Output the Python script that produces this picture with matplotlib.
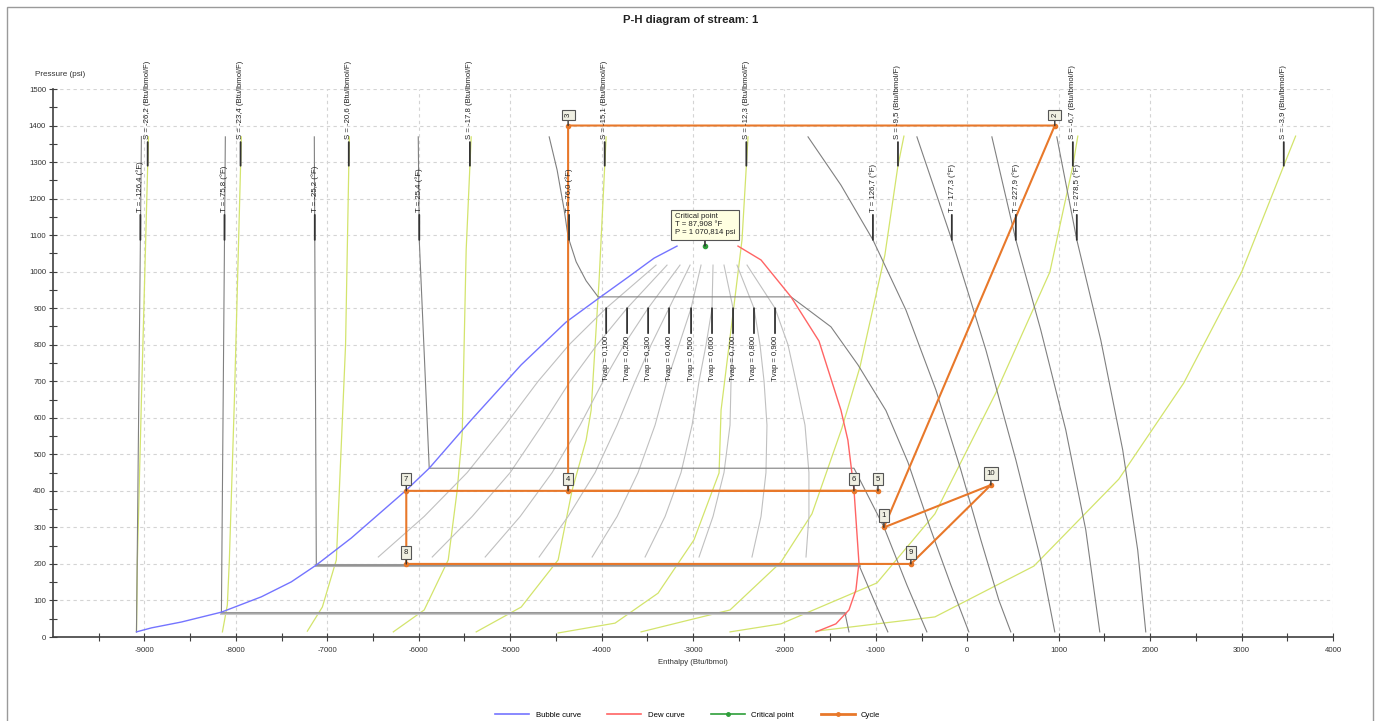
import numpy as np
import matplotlib.pyplot as plt
from matplotlib.lines import Line2D
from matplotlib.patches import Rectangle

plt.rcParams['font.family'] = ['Liberation Sans', 'DejaVu Sans']
plt.rcParams['font.size'] = 5.6
plt.rcParams['axes.unicode_minus'] = False

# saturation dome, enthalpy (Btu/lbmol) vs pressure (psi)
bubble_h = [-9087, -8923, -8596, -8158, -7721, -7393, -7120, -6737, -6136, -5885,
            -5426, -4879, -4388, -4027, -3710, -3426, -3175]
bubble_p = [14, 25, 41, 68, 110, 151, 197, 271, 402, 462, 594, 745, 862, 928, 985, 1037, 1070]
dew_h = [-2508, -2256, -1928, -1622, -1382, -1306, -1239, -1185, -1218, -1294, -1437, -1655]
dew_p = [1070, 1032, 931, 810, 621, 539, 402, 203, 129, 74, 36, 14]
crit_h, crit_p = -2869, 1070.814

# isotherms
iso_labels = ['-126,4', '-75,8', '-25,2', '25,4', '76,0', '126,7', '177,3', '227,9', '278,5']
iso_h = [
    [-9033, -9087],
    [-8115, -8158, -1338, -1294],
    [-7142, -7120, -1185, -1021, -869],
    [-6005, -5994, -5885, -1239, -912, -660, -442],
    [-4573, -4486, -4409, -4366, -4278, -4169, -4038, -1928, -1491, -1196, -890, -650, -398, -179, 17],
    [-1742, -1382, -1032, -671, -343, -70, 148, 345, 476],
    [-551, -169, 203, 531, 804, 957],
    [269, 531, 804, 1077, 1296, 1449],
    [979, 1198, 1460, 1700, 1864, 1952],
]
iso_p = [
    [1370, 14],
    [1369, 66, 66, 14],
    [1369, 197, 197, 101, 14],
    [1369, 1087, 462, 462, 301, 142, 14],
    [1369, 1278, 1169, 1095, 1027, 975, 931, 931, 849, 745, 620, 479, 293, 142, 14],
    [1369, 1237, 1087, 895, 676, 457, 266, 101, 14],
    [1369, 1087, 786, 485, 211, 14],
    [1369, 1087, 840, 567, 293, 14],
    [1369, 1087, 813, 512, 238, 14],
]

# isentropes
ise_labels = ['-26,2', '-23,4', '-20,6', '-17,8', '-15,1', '-12,3', '-9,5', '-6,7', '-3,9']
ise_h = [
    [-8956, -9033, -9077, -9087],
    [-7940, -8016, -8071, -8093, -8147],
    [-6759, -6800, -6860, -6901, -7054, -7218],
    [-5426, -5481, -5524, -5579, -5677, -5940, -6278],
    [-3950, -4027, -4114, -4169, -4322, -4475, -4879, -5371],
    [-2398, -2464, -2540, -2693, -2715, -2989, -3382, -3852, -4475],
    [-693, -759, -901, -1174, -1371, -1699, -2038, -2595, -3131, -3568],
    [1209, 1154, 903, 312, -354, -988, -2038, -2595],
    [3591, 3460, 3001, 2367, 1657, 728, -354, -1655],
]
ise_p = [
    [1369, 649, 211, 14],
    [1369, 649, 211, 88, 14],
    [1369, 800, 449, 211, 82, 16],
    [1369, 1059, 558, 402, 211, 74, 14],
    [1369, 977, 621, 539, 402, 211, 82, 14],
    [1369, 1087, 931, 621, 449, 266, 120, 38, 11],
    [1371, 1289, 1046, 739, 572, 337, 205, 74, 41, 14],
    [1371, 1289, 999, 668, 337, 148, 36, 14],
    [1371, 1289, 999, 695, 432, 194, 55, 16],
]

# constant vapour fraction lines
vap_labels = ['0,100', '0,200', '0,300', '0,400', '0,500', '0,600', '0,700', '0,800', '0,900']
vap_p = [1018, 900, 800, 700, 580, 450, 330, 219]
vap_h = [
    [-3404, -3950, -4355, -4694, -5054, -5470, -5940, -6442],
    [-3284, -3721, -4049, -4344, -4650, -5000, -5415, -5852],
    [-3142, -3491, -3754, -3983, -4235, -4541, -4890, -5273],
    [-3032, -3262, -3458, -3633, -3830, -4071, -4366, -4683],
    [-2912, -3021, -3152, -3284, -3415, -3601, -3830, -4103],
    [-2781, -2792, -2857, -2934, -3010, -3131, -3305, -3524],
    [-2661, -2562, -2562, -2584, -2595, -2661, -2781, -2934],
    [-2519, -2333, -2267, -2223, -2191, -2202, -2256, -2355],
    [-2409, -2103, -1961, -1874, -1775, -1732, -1732, -1764],
]

# cycle states
cyc_names = ['1', '2', '3', '4', '5', '6', '7', '8', '9', '10']
cyc_h = [-912, 957, -4366, -4366, -977, -1240, -6136, -6136, -617, 258]
cyc_p = [300, 1400, 1400, 400, 400, 400, 400, 200, 200, 416]
cyc_path = [5, 4, 3, 2, 1, 10, 9, 8, 7, 6]

blue = '#7474ff'
red = '#ff6464'
green = '#2e9e3a'
orange = '#e8782a'
yellow = '#d3e46c'
stem = '#333333'


def h_at(hs, ps, p0):
    for i in range(len(ps) - 1):
        if ps[i] != ps[i + 1] and (ps[i] - p0) * (ps[i + 1] - p0) <= 0:
            t = (p0 - ps[i]) / (ps[i + 1] - ps[i])
            return hs[i] + t * (hs[i + 1] - hs[i])
    return hs[0]


def tag(ax, x, y, text, dy, va):
    ax.annotate(text, xy=(x, y), xytext=(0, dy), textcoords='offset points',
                rotation=90, ha='center', va=va, fontsize=5.6, color='#222222',
                arrowprops=dict(arrowstyle='-', color=stem, lw=1.3, shrinkA=0, shrinkB=0),
                annotation_clip=False, zorder=6)


fig = plt.figure(figsize=(13.81, 7.21), dpi=100)
ax = fig.add_axes([53 / 1381, 1 - 637 / 721, 1280 / 1381, 548 / 721])

ax.set_xlim(-10000, 4000)
ax.set_ylim(0, 1500)
ax.set_xticks(np.arange(-9000, 4001, 1000))
ax.set_xticks(np.arange(-9500, 4000, 1000), minor=True)
ax.set_yticks(np.arange(0, 1501, 100))
ax.set_yticks(np.arange(50, 1500, 100), minor=True)
ax.grid(True, which='major', color='#d4d4d4', linestyle=(0, (3, 3)), lw=0.8)
ax.set_axisbelow(True)
for s in ['top', 'right']:
    ax.spines[s].set_visible(False)
for s in ['left', 'bottom']:
    ax.spines[s].set_color('#404040')
    ax.spines[s].set_linewidth(1.2)
ax.tick_params(which='both', direction='inout', length=6, width=0.8, color='#404040',
               labelcolor='#333333', labelsize=5.6)
ax.tick_params(axis='x', pad=4)
ax.tick_params(axis='y', pad=2)

# isentropes
for hs, ps in zip(ise_h, ise_p):
    ax.plot(hs, ps, color=yellow, lw=0.9, zorder=2)

# vapour fraction lines
for hs in vap_h:
    ax.plot(hs, vap_p, color='#c0c0c0', lw=0.8, zorder=2)

# isotherms
ax.plot([-8158, -1338], [66, 66], color='#c8c8c8', lw=2.2, zorder=2)
ax.plot([-7120, -1185], [197, 197], color='#b0b0b0', lw=2.2, zorder=2)
for hs, ps in zip(iso_h, iso_p):
    ax.plot(hs, ps, color='#808080', lw=0.8, zorder=3)

# saturation dome
ax.plot(bubble_h, bubble_p, color=blue, lw=1.0, zorder=4)
ax.plot(dew_h, dew_p, color=red, lw=1.0, zorder=4)
ax.plot([crit_h], [crit_p], 'o', color=green, ms=3, zorder=5)

# cycle
ax.plot([cyc_h[i - 1] for i in cyc_path], [cyc_p[i - 1] for i in cyc_path],
        color=orange, lw=1.5, marker='o', ms=3, mfc=orange, mec=orange, zorder=5)

# labels on isotherms / isentropes / vapour fraction
for lab, hs, ps in zip(iso_labels, iso_h, iso_p):
    tag(ax, h_at(hs, ps, 1087), 1087, 'T = %s (°F)' % lab, 20, 'bottom')
for lab, hs, ps in zip(ise_labels, ise_h, ise_p):
    tag(ax, h_at(hs, ps, 1290), 1290, 'S = %s (Btu/lbmol/F)' % lab, 19, 'bottom')
for lab, hs in zip(vap_labels, vap_h):
    tag(ax, hs[1], 900, 'Tvap = %s' % lab, -20, 'top')

# critical point box
ax.annotate('Critical point\nT = 87,908 °F\nP = 1 070,814 psi', xy=(crit_h, crit_p),
            xytext=(0, 7), textcoords='offset points', ha='center', va='bottom',
            multialignment='left', fontsize=5.6, color='#222222',
            bbox=dict(boxstyle='square,pad=0.45', fc='#ffffe1', ec='#555555', lw=0.8),
            arrowprops=dict(arrowstyle='-', color=stem, lw=1.2, shrinkA=0, shrinkB=0),
            zorder=7)

# cycle state labels
for name, h, p in zip(cyc_names, cyc_h, cyc_p):
    rot = 90 if name in ('2', '3') else 0
    ax.annotate(name, xy=(h, p), xytext=(0, 6), textcoords='offset points',
                ha='center', va='bottom', rotation=rot, fontsize=5.6, color='#222222',
                bbox=dict(boxstyle='square,pad=0.38', fc='#efefe2', ec='#555555', lw=0.8),
                arrowprops=dict(arrowstyle='-', color=stem, lw=1.0, shrinkA=0, shrinkB=0),
                annotation_clip=False, zorder=7)

fig.text(0.5, 1 - 20 / 721, 'P-H diagram of stream: 1', ha='center', va='center',
         fontsize=8.2, fontweight='bold', color='#222222')
fig.text(35 / 1381, 1 - 74 / 721, 'Pressure (psi)', ha='left', va='center',
         fontsize=5.9, color='#333333')
fig.text(693 / 1381, 1 - 662 / 721, 'Enthalpy (Btu/lbmol)', ha='center', va='center', color='#333333')

handles = [Line2D([], [], color=blue, lw=1.2),
           Line2D([], [], color=red, lw=1.2),
           Line2D([], [], color=green, lw=1.2, marker='o', ms=2.5),
           Line2D([], [], color=orange, lw=2, marker='o', ms=2.5)]
fig.legend(handles, ['Bubble curve', 'Dew curve', 'Critical point', 'Cycle'],
           loc='center', bbox_to_anchor=(0.498, 1 - 715 / 721), ncol=4, frameon=False,
           fontsize=5.6, handlelength=4.4, columnspacing=3.4, handletextpad=0.8)

fig.add_artist(Rectangle((7 / 1381, -0.05), 1366 / 1381, 1.05 - 7 / 721,
                         transform=fig.transFigure, fill=False, ec='#9a9a9a', lw=1))

fig.savefig('out.png', dpi=100)
